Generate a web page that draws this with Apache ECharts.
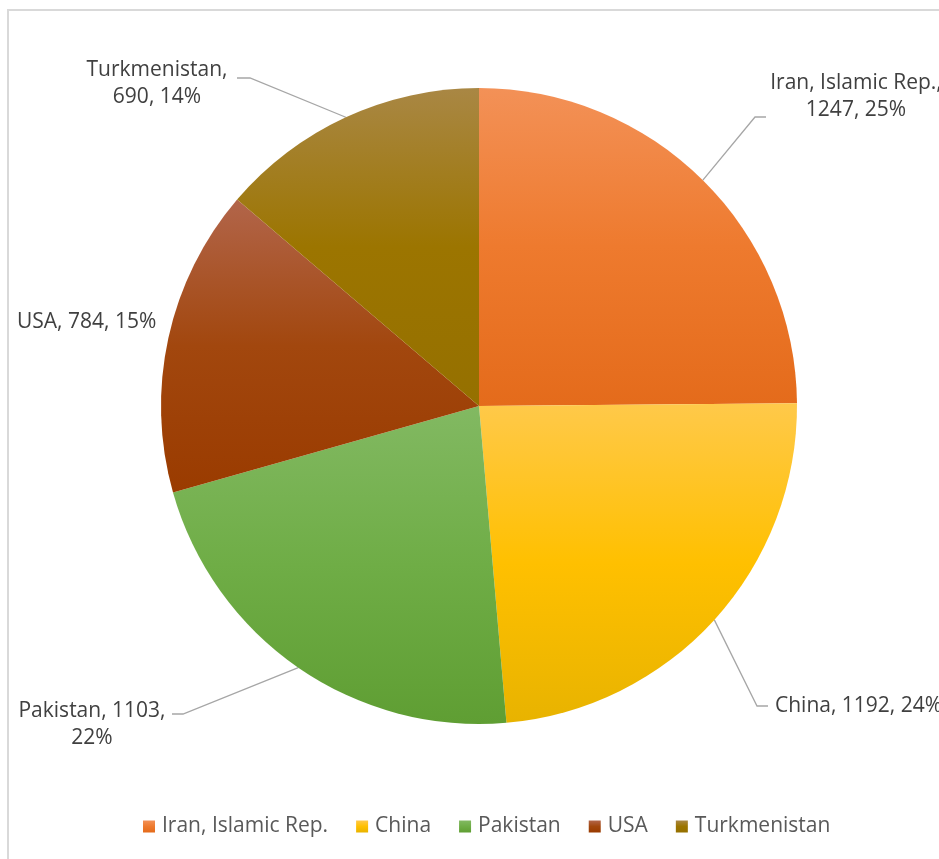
<!DOCTYPE html>
<html>
<head>
<meta charset="utf-8">
<script src="https://cdn.jsdelivr.net/npm/echarts@6/dist/echarts.min.js"></script>
<style>
  html, body { margin: 0; padding: 0; background: #fff; }
  #chart { width: 939px; height: 859px; }
</style>
</head>
<body>
<div id="chart"></div>
<script>
// Country shares
const categories = ['Iran, Islamic Rep.', 'China', 'Pakistan', 'USA', 'Turkmenistan'];
const values = [1247, 1192, 1103, 784, 690];
const percentLabels = ['25%', '24%', '22%', '15%', '14%'];

// Gradient fills per slice: [top, middle, bottom]
const sliceColors = [
  ['#F39157', '#EE7A2E', '#E46B1B'],
  ['#FFC94A', '#FFC000', '#E8B300'],
  ['#82B962', '#6FAD46', '#5F9E33'],
  ['#B2654A', '#A2470E', '#9A3B00'],
  ['#A98744', '#9C7500', '#957000']
];

// Label text for each slice (wrapped the way the chart shows it)
const labelTexts = [
  categories[0] + ',\n' + values[0] + ', ' + percentLabels[0],
  categories[1] + ', ' + values[1] + ', ' + percentLabels[1],
  categories[2] + ', ' + values[2] + ',\n' + percentLabels[2],
  categories[3] + ', ' + values[3] + ', ' + percentLabels[3],
  categories[4] + ',\n' + values[4] + ', ' + percentLabels[4]
];

// Label placement: anchor point, alignment, and leader line bend/end
const labelPlacement = [
  { x: 856, y: 97, align: 'center', bend: [755, 117], end: [766, 117] },
  { x: 775, y: 706, align: 'left', bend: [757, 706], end: [768, 706] },
  { x: 92, y: 725, align: 'center', bend: [183, 714], end: [172, 714] },
  { x: 17, y: 322, align: 'left', bend: null, end: null },
  { x: 157, y: 84, align: 'center', bend: [250, 78], end: [237, 78] }
];

function gradient(c) {
  return {
    type: 'linear', x: 0, y: 0, x2: 0, y2: 1,
    colorStops: [
      { offset: 0, color: c[0] },
      { offset: 0.5, color: c[1] },
      { offset: 1, color: c[2] }
    ]
  };
}

const seriesData = categories.map((name, i) => ({
  name: name,
  value: values[i],
  itemStyle: { color: gradient(sliceColors[i]) },
  label: { formatter: labelTexts[i] },
  labelLine: { show: labelPlacement[i].bend !== null }
}));

const chart = echarts.init(document.getElementById('chart'), null, { renderer: 'canvas' });

chart.setOption({
  backgroundColor: '#ffffff',
  animation: false,
  graphic: [{
    type: 'rect',
    shape: { x: 8, y: 10, width: 1000, height: 900 },
    style: { fill: 'none', stroke: '#d9d9d9', lineWidth: 2 },
    z: -1
  }],
  legend: {
    bottom: 17,
    left: 138,
    itemWidth: 12,
    itemHeight: 12,
    itemGap: 28,
    icon: 'rect',
    textStyle: { fontFamily: 'Open Sans', fontSize: 21, color: '#595959', padding: [0, 0, 0, 2] },
    data: categories
  },
  series: [{
    type: 'pie',
    center: [479, 406],
    radius: [0, 318],
    startAngle: 90,
    clockwise: true,
    avoidLabelOverlap: false,
    itemStyle: { borderWidth: 0 },
    label: {
      show: true,
      position: 'outside',
      fontFamily: 'Open Sans',
      fontSize: 21,
      lineHeight: 27,
      color: '#404040'
    },
    labelLine: {
      length: 20,
      length2: 10,
      lineStyle: { color: '#a6a6a6', width: 1.3 }
    },
    labelLayout: function (params) {
      const p = labelPlacement[params.dataIndex];
      const out = { x: p.x, y: p.y, align: p.align, verticalAlign: 'middle' };
      if (p.bend && params.labelLinePoints) {
        out.labelLinePoints = [params.labelLinePoints[0], p.bend, p.end];
      }
      return out;
    },
    emphasis: { disabled: true },
    data: seriesData
  }]
});
</script>
</body>
</html>
